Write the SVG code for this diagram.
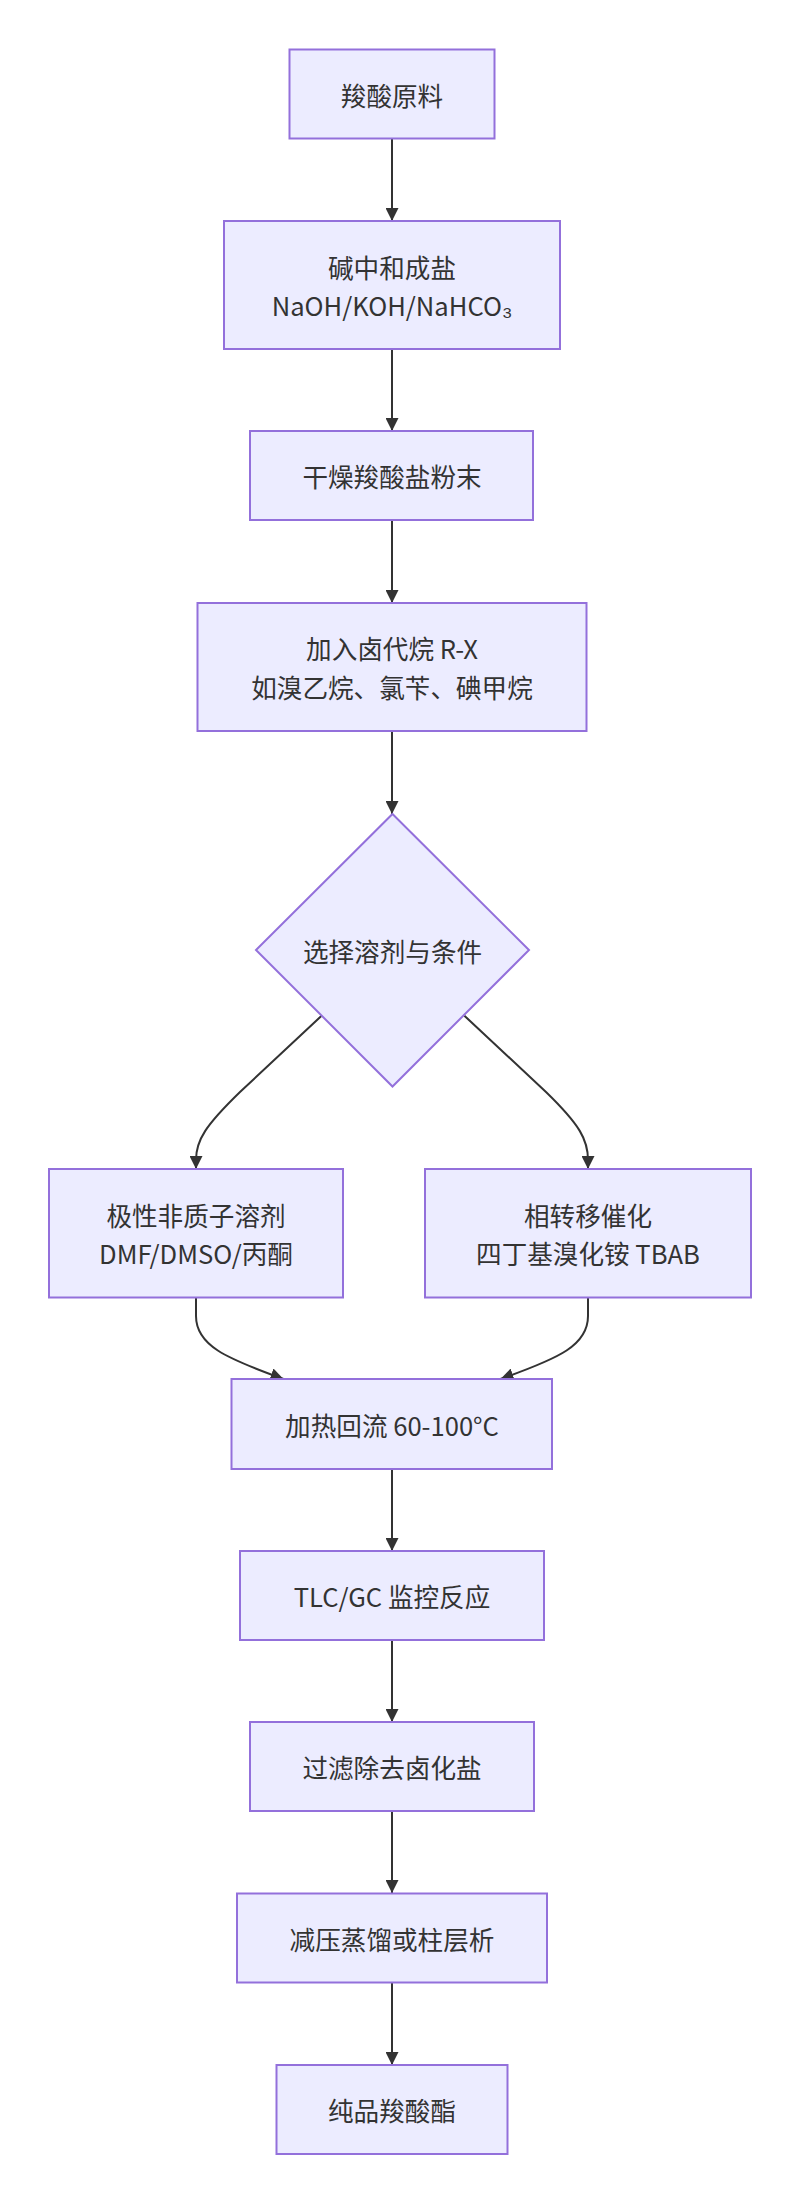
<svg xmlns="http://www.w3.org/2000/svg" width="800" height="2203" viewBox="0 0 800 2203">
<style>
.node rect,.node polygon{fill:#ECECFF;stroke:#9370DB;stroke-width:2}
.lbl{font-family:"Noto Sans CJK SC","Liberation Sans",sans-serif;font-size:25.6px;fill:#333;text-anchor:middle;dominant-baseline:central}
.edge{fill:none;stroke:#333;stroke-width:2}
</style>
<defs>
<marker id="arr" viewBox="0 0 10 10" refX="10" refY="5" markerWidth="13" markerHeight="13" markerUnits="userSpaceOnUse" orient="auto">
<path d="M0,0 L10,5 L0,10 z" fill="#333"/>
</marker>
</defs>
<rect width="800" height="2203" fill="#fff"/>
<g id="edges">
<path class="edge" d="M392,138.5 L392,221" marker-end="url(#arr)"/>
<path class="edge" d="M392,349 L392,431" marker-end="url(#arr)"/>
<path class="edge" d="M392,520 L392,603" marker-end="url(#arr)"/>
<path class="edge" d="M392,731 L392,814" marker-end="url(#arr)"/>
<path class="edge" d="M321.6,1015.7 L240,1092 C206,1125 196,1140 196,1160 L196,1169" marker-end="url(#arr)"/>
<path class="edge" d="M464.4,1015.7 L546,1092 C580,1125 588,1140 588,1160 L588,1169" marker-end="url(#arr)"/>
<path class="edge" d="M196,1298 L196,1316 C196,1345 225,1358 283.5,1379" marker-end="url(#arr)"/>
<path class="edge" d="M588,1298 L588,1316 C588,1345 560,1358 500.5,1379" marker-end="url(#arr)"/>
<path class="edge" d="M392,1469 L392,1551" marker-end="url(#arr)"/>
<path class="edge" d="M392,1640 L392,1722" marker-end="url(#arr)"/>
<path class="edge" d="M392,1811 L392,1893" marker-end="url(#arr)"/>
<path class="edge" d="M392,1983 L392,2065" marker-end="url(#arr)"/>
</g>
<g id="n1" class="node"><rect x="289.5" y="49.5" width="205" height="89"/><text class="lbl" x="392" y="94">羧酸原料</text></g>
<g id="n2" class="node"><rect x="224" y="221" width="336" height="128"/><text class="lbl" x="392" y="266">碱中和成盐</text><text class="lbl" x="392" y="304">NaOH/KOH/NaHCO₃</text></g>
<g id="n3" class="node"><rect x="250" y="431" width="283" height="89"/><text class="lbl" x="392" y="475.5">干燥羧酸盐粉末</text></g>
<g id="n4" class="node"><rect x="197.5" y="603" width="389" height="128"/><text class="lbl" x="392" y="647">加入卤代烷 R-X</text><text class="lbl" x="392" y="686">如溴乙烷、氯苄、碘甲烷</text></g>
<g id="n5" class="node"><polygon points="392.5,814 529,950 392.5,1086.5 256,950"/><text class="lbl" x="392.5" y="950">选择溶剂与条件</text></g>
<g id="n6" class="node"><rect x="49" y="1169" width="294" height="128.5"/><text class="lbl" x="196" y="1214">极性非质子溶剂</text><text class="lbl" x="196" y="1252">DMF/DMSO/丙酮</text></g>
<g id="n7" class="node"><rect x="425" y="1169" width="326" height="128.5"/><text class="lbl" x="588" y="1214">相转移催化</text><text class="lbl" x="588" y="1252">四丁基溴化铵 TBAB</text></g>
<g id="n8" class="node"><rect x="231.5" y="1379" width="320.5" height="90"/><text class="lbl" x="392" y="1424">加热回流 60-100°C</text></g>
<g id="n9" class="node"><rect x="240" y="1551" width="304" height="89"/><text class="lbl" x="392" y="1595.5">TLC/GC 监控反应</text></g>
<g id="n10" class="node"><rect x="250" y="1722" width="284" height="89"/><text class="lbl" x="392" y="1766.5">过滤除去卤化盐</text></g>
<g id="n11" class="node"><rect x="237" y="1893.5" width="310" height="89"/><text class="lbl" x="392" y="1938">减压蒸馏或柱层析</text></g>
<g id="n12" class="node"><rect x="276.5" y="2065" width="231" height="89"/><text class="lbl" x="392" y="2109.5">纯品羧酸酯</text></g>
</svg>
